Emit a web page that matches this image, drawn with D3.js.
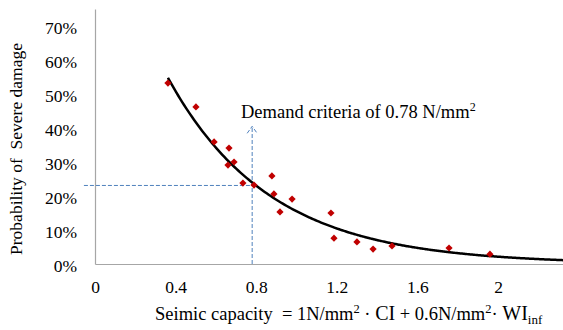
<!DOCTYPE html>
<html>
<head>
<meta charset="utf-8">
<script src="https://cdn.jsdelivr.net/npm/d3@7"></script>
<style>
  body { margin: 0; background: #fff; }
</style>
</head>
<body>
<div id="chart"></div>
<script>
// capacity (N/mm2) of each building and observed probability of severe damage
const capacity = [0.362, 0.501, 0.591, 0.665, 0.660, 0.690, 0.734, 0.789, 0.878, 0.888,
                  0.978, 0.918, 1.171, 1.186, 1.300, 1.380, 1.474, 1.757, 1.960];
const severeProb = [0.532, 0.462, 0.359, 0.341, 0.291, 0.300, 0.238, 0.232, 0.259, 0.206,
                    0.191, 0.153, 0.150, 0.076, 0.065, 0.044, 0.053, 0.047, 0.029];

const xTicks = [0, 0.4, 0.8, 1.2, 1.6, 2.0];
const yTicks = [0, 0.1, 0.2, 0.3, 0.4, 0.5, 0.6, 0.7];

// demand annotation
const demandX = 0.78;
const demandY = 0.231;
const arrowTop = 0.405;
const guideStartX = -0.055;

const width = 563, height = 330;
const serif = 'Liberation Serif';

const svg = d3.select('#chart').append('svg')
  .attr('width', width)
  .attr('height', height)
  .attr('font-family', serif);

const x = d3.scaleLinear().domain([0, 2.4]).range([95, 95 + 2.4 * 201.5]);
const y = d3.scaleLinear().domain([0, 0.75]).range([264, 264 - 0.75 * 340]);

// axes
const yAxis = svg.append('g')
  .attr('transform', `translate(${x(0)},0)`)
  .call(d3.axisLeft(y).tickValues(yTicks).tickFormat(d3.format('.0%')).tickSize(0).tickSizeOuter(0).tickPadding(18));

const xAxis = svg.append('g')
  .attr('transform', `translate(0,${y(0)})`)
  .call(d3.axisBottom(x).tickValues(xTicks).tickFormat(d3.format('~g')).tickSize(0).tickSizeOuter(0).tickPadding(17));

svg.selectAll('g').attr('font-family', serif).attr('font-size', 17.5);
svg.selectAll('.domain').attr('stroke', '#a6a6a6').attr('stroke-width', 1.2);
yAxis.selectAll('text').attr('dy', '0.42em');

// exponential trendline, least squares on ln(y) like the spreadsheet does
const lnY = severeProb.map(Math.log);
const mx = d3.mean(capacity), my = d3.mean(lnY);
const sxy = d3.sum(capacity, (c, i) => (c - mx) * (lnY[i] - my));
const sxx = d3.sum(capacity, c => (c - mx) ** 2);
const trendB = sxy / sxx;
const trendA = Math.exp(my - trendB * mx);

const trendXs = d3.range(d3.min(capacity), 2.4, 0.01);
const line = d3.line()
  .x(d => x(d))
  .y(d => y(trendA * Math.exp(trendB * d)))
  .curve(d3.curveBasis);

// demand guide lines
const guide = svg.append('g')
  .attr('stroke', '#4f81bd')
  .attr('stroke-width', 1)
  .attr('stroke-dasharray', '4,2')
  .attr('fill', 'none');

guide.append('line')
  .attr('x1', x(guideStartX)).attr('x2', x(demandX))
  .attr('y1', y(demandY)).attr('y2', y(demandY));

guide.append('line')
  .attr('x1', x(demandX)).attr('x2', x(demandX))
  .attr('y1', y(0)).attr('y2', y(arrowTop));

guide.append('path')
  .attr('stroke-dasharray', null)
  .attr('d', `M${x(demandX) - 5},${y(arrowTop) + 7}L${x(demandX)},${y(arrowTop)}L${x(demandX) + 5},${y(arrowTop) + 7}`);

svg.append('path')
  .datum(trendXs)
  .attr('fill', 'none')
  .attr('stroke', '#000')
  .attr('stroke-width', 2.5)
  .attr('d', line);

// points
svg.selectAll('.pt')
  .data(capacity.map((c, i) => [c, severeProb[i]]))
  .enter().append('path')
  .attr('class', 'pt')
  .attr('d', d3.symbol().type(d3.symbolSquare).size(26))
  .attr('transform', d => `translate(${x(d[0])},${y(d[1])}) rotate(45)`)
  .attr('fill', '#c00000');

// annotation
const ann = svg.append('text')
  .attr('x', 241)
  .attr('y', 118)
  .attr('font-size', 18.5);
ann.append('tspan').text('Demand criteria of 0.78 N/mm');
ann.append('tspan').attr('dy', -7).attr('font-size', 12).text('2');

// y title
svg.append('text')
  .attr('transform', `translate(22,${149}) rotate(-90)`)
  .attr('text-anchor', 'middle')
  .attr('font-size', 17.5)
  .style('white-space', 'pre')
  .text('Probability of  Severe damage');

// x title
const xt = svg.append('text')
  .attr('x', 155)
  .attr('y', 320)
  .attr('font-size', 18.5)
  .style('white-space', 'pre');
xt.append('tspan').text('Seimic capacity  = 1N/mm');
xt.append('tspan').attr('dy', -7).attr('font-size', 12.5).text('2');
xt.append('tspan').attr('dy', 7).text(' \u00b7 ');
xt.append('tspan').attr('font-size', 20).text('CI');
xt.append('tspan').text(' + 0.6N/mm');
xt.append('tspan').attr('dy', -7).attr('font-size', 12.5).text('2');
xt.append('tspan').attr('dy', 7).text('\u00b7 ');
xt.append('tspan').attr('font-size', 20).text('WI');
xt.append('tspan').attr('dy', 4).attr('font-size', 13).text('inf');
</script>
</body>
</html>
